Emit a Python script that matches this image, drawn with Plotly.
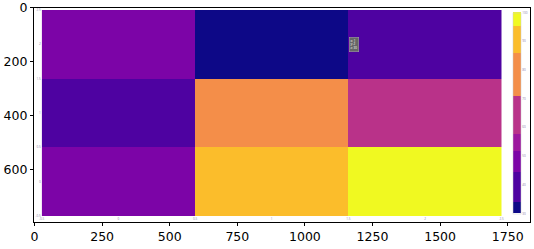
import plotly.graph_objects as go

# ---- data ----
x_cats = [0, 1, 2]
y_cats = [0, 1, 2]
z_vals = [[50, 90, 100],
          [40, 80, 60],
          [50, 30, 40]]
inner_ticks = [-0.5, 0, 0.5, 1, 1.5, 2, 2.5]
inner_ticktext = ["-0.5", "0", "0.5", "1", "1.5", "2", "2.5"]
cbar_ticks = [30, 40, 50, 60, 70, 80, 90, 100]
outer_xticks = [0, 250, 500, 750, 1000, 1250, 1500, 1750]
outer_yticks = [0, 200, 400, 600]
img_w, img_h = 1833, 792

W, H = 534, 249

# discrete colorscale
bounds = [0, 0.057, 0.204, 0.306, 0.391, 0.583, 0.794, 0.93, 1]
cols = ['#0d0887', '#4e02a1', '#7c04a7', '#9c179e', '#b93289',
        '#f48e49', '#fbbd2b', '#f0f921']
cscale = []
for i, c in enumerate(cols):
    cscale.append([bounds[i], c])
    cscale.append([bounds[i + 1], c])

fig = go.Figure()

# outer (frame) axes
fig.add_trace(go.Scatter(x=[], y=[], xaxis="x", yaxis="y", showlegend=False))

tick_col = "#8a80a8"
fig.add_trace(go.Heatmap(
    x=x_cats, y=y_cats, z=z_vals, xaxis="x2", yaxis="y2",
    zmin=30, zmax=100, colorscale=cscale,
    colorbar=dict(
        x=513.3 / W, xanchor="left", xpad=0, ypad=0,
        y=1 - 113 / H, yanchor="middle", len=200.6 / H, lenmode="fraction",
        thickness=7.7, thicknessmode="pixels",
        tickvals=cbar_ticks, ticks="", ticklen=0,
        tickfont=dict(size=3, color=tick_col, family="Open Sans"),
        outlinewidth=0.5, outlinecolor="#cccccc",
    ),
))

fig.add_annotation(
    xref="x2", yref="y2", x=1.5, y=2, xshift=1,
    text="x: 1<br>y: 2<br>z: 30", showarrow=False, xanchor="left", yanchor="middle",
    align="left", font=dict(size=3, color="#ffffff", family="Open Sans"),
    bgcolor="#666666", bordercolor="#aaaaaa", borderwidth=0.5, borderpad=1,
)

fig.update_layout(
    width=W, height=H, margin=dict(l=0, r=0, t=0, b=0, autoexpand=False),
    paper_bgcolor="white", plot_bgcolor="white",
    font=dict(family="DejaVu Sans", size=12, color="black"),
    xaxis=dict(
        domain=[34.4 / W, 530 / W], range=[-0.5, img_w - 0.5],
        tickvals=outer_xticks, ticks="outside", ticklen=3.5, tickwidth=0.8,
        tickcolor="black", showline=True, linecolor="black", linewidth=1,
        mirror=True, showgrid=False, zeroline=False, automargin=False,
        tickfont=dict(size=12.5, color="black"),
    ),
    yaxis=dict(
        domain=[1 - 221.7 / H, 1 - 7.5 / H], range=[img_h - 0.5, -0.5],
        tickvals=outer_yticks, ticks="outside", ticklen=3.5, tickwidth=0.8,
        tickcolor="black", showline=True, linecolor="black", linewidth=1,
        mirror=True, showgrid=False, zeroline=False, automargin=False,
        tickfont=dict(size=12.5, color="black"),
    ),
    xaxis2=dict(
        domain=[41.7 / W, 501.7 / W], range=[-0.5, 2.5], anchor="y2",
        tickvals=inner_ticks, ticktext=inner_ticktext, ticks="",
        showgrid=False, zeroline=False, showline=False, automargin=False,
        tickfont=dict(size=3, color=tick_col, family="Open Sans"),
    ),
    yaxis2=dict(
        domain=[1 - 216 / H, 1 - 10 / H], range=[-0.5, 2.5], anchor="x2",
        tickvals=inner_ticks, ticktext=inner_ticktext, ticks="",
        showgrid=False, zeroline=False, showline=False, automargin=False,
        tickfont=dict(size=3, color=tick_col, family="Open Sans"),
    ),
)

fig.write_html("out.html")
